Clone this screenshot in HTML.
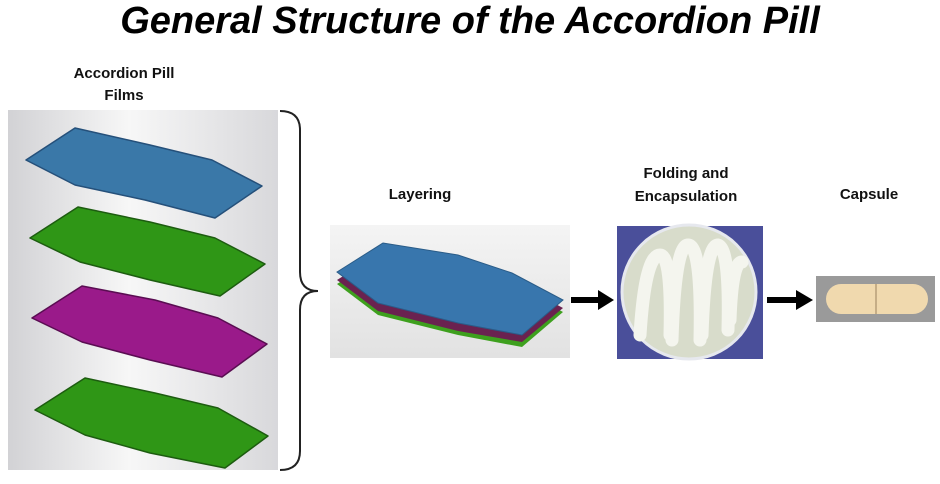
<!DOCTYPE html>
<html><head><style>
body{margin:0;width:940px;height:484px;background:#fff;overflow:hidden;position:relative;font-family:"Liberation Sans",sans-serif}
.t{position:absolute;font-weight:bold;font-size:15px;color:#111;text-align:center;white-space:nowrap}
</style></head><body>
<div class="t" style="left:0;width:940px;top:0px;font-size:38px;font-style:italic;color:#000">General Structure of the Accordion Pill</div>
<div class="t" style="left:44px;width:160px;top:63px;line-height:22px">Accordion Pill<br>Films</div>
<div class="t" style="left:360px;width:120px;top:186px">Layering</div>
<div class="t" style="left:616px;width:140px;top:162px;line-height:23px">Folding and<br>Encapsulation</div>
<div class="t" style="left:819px;width:100px;top:186px">Capsule</div>
<svg width="940" height="484" style="position:absolute;left:0;top:0">
<defs>
<linearGradient id="g1" x1="0" x2="1"><stop offset="0" stop-color="#d2d2d5"/><stop offset=".45" stop-color="#f7f7f7"/><stop offset="1" stop-color="#d8d8db"/></linearGradient>
<linearGradient id="g2" x1="0" y1="0" x2="0" y2="1"><stop offset="0" stop-color="#f4f4f4"/><stop offset="1" stop-color="#e2e2e2"/></linearGradient>
</defs>
<rect x="8" y="110" width="270" height="360" fill="url(#g1)"/>
<path d="M26,160 L75,128 L150,145 L212,160 L262,186 L215,218 L145,200 L75,185 Z" fill="#3a78a8" stroke="#25507a" stroke-width="1.5" stroke-linejoin="round"/>
<path d="M30,238 L78,207 L150,222 L215,238 L265,264 L220,296 L150,280 L80,262 Z" fill="#2f9616" stroke="#1d5c10" stroke-width="1.5" stroke-linejoin="round"/>
<path d="M32,318 L82,286 L155,300 L218,318 L267,344 L222,377 L150,360 L82,342 Z" fill="#9a1a8a" stroke="#5a0d52" stroke-width="1.5" stroke-linejoin="round"/>
<path d="M35,410 L85,378 L155,393 L218,408 L268,436 L225,468 L150,453 L85,435 Z" fill="#2f9616" stroke="#1d5c10" stroke-width="1.5" stroke-linejoin="round"/>
<path d="M280,111 Q300,111 300,130 L300,272 Q300,291 318,291 Q300,291 300,310 L300,451 Q300,470 280,470" fill="none" stroke="#222" stroke-width="2"/>
<rect x="330" y="225" width="240" height="133" fill="url(#g2)"/>
<path d="M337,284 L383,255 L458,267 L512,285 L563,312 L522,347 L458,335 L378,315 Z" fill="#3ea01e"/>
<path d="M337,280 L383,251 L458,263 L512,281 L563,308 L522,342 L458,331 L378,311 Z" fill="#6a2250"/>
<path d="M337,272 L383,243 L458,255 L512,273 L563,300 L522,335 L458,323 L378,303 Z" fill="#3876ad" stroke="#2a5c88" stroke-width="1"/>
<path d="M571,300 H600" stroke="#000" stroke-width="6"/><path d="M598,290 L614,300 L598,310 Z"/>
<path d="M767,300 H798" stroke="#000" stroke-width="6"/><path d="M796,290 L813,300 L796,310 Z"/>
<rect x="617" y="226" width="146" height="133" fill="#4a4f9a"/>
<circle cx="689" cy="292" r="67" fill="#d8dccb" stroke="#e6e8ee" stroke-width="3"/>
<g stroke="#f4f5ee" stroke-width="13" fill="none" stroke-linecap="round">
<path d="M640,335 Q645,255 660,255 Q672,255 670,335"/><path d="M672,340 Q675,245 688,245 Q702,245 700,340"/><path d="M702,335 Q705,245 718,245 Q730,248 728,330"/><path d="M730,320 Q732,262 742,262"/>
</g>
<rect x="816" y="276" width="119" height="46" fill="#9a9a9a"/>
<rect x="826" y="284" width="102" height="30" rx="15" fill="#f0d9ae"/>
<path d="M876,284 V314" stroke="#a8906a" stroke-width="1.2"/>
</svg>
</body></html>
